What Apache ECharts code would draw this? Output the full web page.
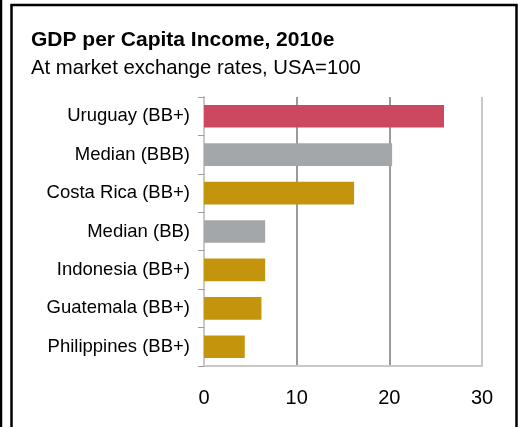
<!DOCTYPE html>
<html>
<head>
<meta charset="utf-8">
<script src="https://cdn.jsdelivr.net/npm/echarts@6/dist/echarts.min.js"></script>
<style>
  html, body { margin: 0; padding: 0; background: #fff; }
  #chart { width: 520px; height: 427px; }
</style>
</head>
<body>
<div id="chart"></div>
<script>
// Categories listed top to bottom
const categories = [
  'Uruguay (BB+)',
  'Median (BBB)',
  'Costa Rica (BB+)',
  'Median (BB)',
  'Indonesia (BB+)',
  'Guatemala (BB+)',
  'Philippines (BB+)'
];
// GDP per capita, USA = 100
const values = [25.9, 20.3, 16.2, 6.6, 6.6, 6.2, 4.4];
// Bar group: 'focus' = Uruguay, 'median' = rating medians, 'peer' = BB+ peers
const groups = ['focus', 'median', 'peer', 'median', 'peer', 'peer', 'peer'];
const xTicks = [0, 10, 20, 30];

const groupColors = { focus: '#CB4860', median: '#A4A7AA', peer: '#C4950C' };

const chart = echarts.init(document.getElementById('chart'), null, { renderer: 'canvas' });

// category axis runs bottom-to-top, so reverse to keep the listed order
const cats = categories.slice().reverse();
const barData = values.map((v, i) => ({
  value: v,
  itemStyle: { color: groupColors[groups[i]] }
})).reverse();

chart.setOption({
  animation: false,
  backgroundColor: '#fff',
  title: [
    {
      text: 'GDP per Capita Income, 2010e',
      left: 26, top: 25,
      textStyle: { fontFamily: 'Liberation Sans, Arial, sans-serif', fontSize: 21, fontWeight: 'bold', color: '#000' }
    },
    {
      text: 'At market exchange rates, USA=100',
      left: 26, top: 53,
      textStyle: { fontFamily: 'Liberation Sans, Arial, sans-serif', fontSize: 20.3, fontWeight: 'normal', color: '#000' }
    }
  ],
  grid: { left: 204, right: 38, top: 97, bottom: 61, containLabel: false },
  xAxis: {
    type: 'value',
    min: xTicks[0],
    max: xTicks[xTicks.length - 1],
    interval: 10,
    axisLine: { show: true, lineStyle: { color: '#C8C8C8', width: 2 } },
    axisTick: { show: false },
    axisLabel: {
      margin: 22,
      fontFamily: 'Liberation Sans, Arial, sans-serif',
      fontSize: 20,
      color: '#000'
    },
    splitLine: {
      show: true,
      lineStyle: { color: ['#C8C8C8', '#9A9A9A', '#9A9A9A', '#C8C8C8'], width: 2 }
    }
  },
  yAxis: {
    type: 'category',
    data: cats,
    axisLine: { show: true, lineStyle: { color: '#C8C8C8', width: 2 } },
    axisTick: { show: true, length: 6, lineStyle: { color: '#9A9A9A', width: 1 } },
    axisLabel: {
      margin: 14,
      fontFamily: 'Liberation Sans, Arial, sans-serif',
      fontSize: 18.5,
      color: '#000'
    },
    splitLine: { show: false }
  },
  series: [{
    type: 'bar',
    data: barData,
    barCategoryGap: '41%',
    z: 3
  }],
  graphic: [
    // frame around the panel
    { type: 'line', shape: { x1: 1, y1: 0, x2: 1, y2: 427 }, style: { stroke: '#000', lineWidth: 2.5 } },
    { type: 'polyline', shape: { points: [[11.5, 427], [11.5, 5], [516.5, 5], [516.5, 427]] }, style: { stroke: '#000', lineWidth: 2.5, fill: null } }
  ]
});
</script>
</body>
</html>
